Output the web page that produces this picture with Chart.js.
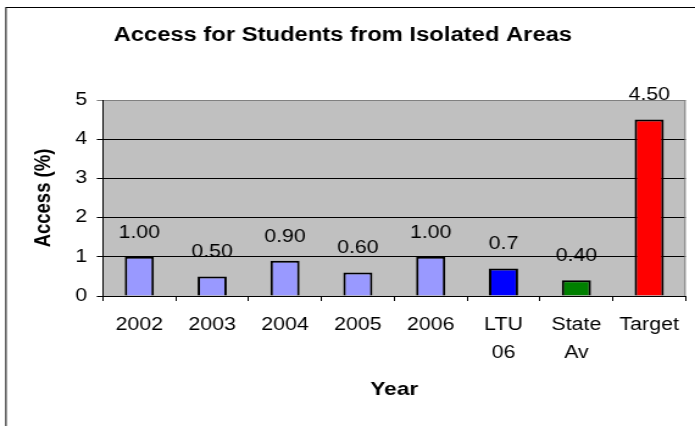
<!DOCTYPE html>
<html>
<head>
<meta charset="utf-8">
<script src="https://cdn.jsdelivr.net/npm/chart.js@4/dist/chart.umd.min.js"></script>
<style>
  html, body { margin: 0; padding: 0; background: #fff; overflow: hidden; }
  #wrap { width: 570px; height: 426px; transform: scale(1.2193, 1); transform-origin: 0 0; }
</style>
</head>
<body>
<div id="wrap"><canvas id="chart" width="570" height="426"></canvas></div>
<script>
const categories = ['2002', '2003', '2004', '2005', '2006', ['LTU', '06'], ['State', 'Av'], 'Target'];
const accessValues = [1.0, 0.5, 0.9, 0.6, 1.0, 0.7, 0.4, 4.5];
const valueLabels = ['1.00', '0.50', '0.90', '0.60', '1.00', '0.7', '0.40', '4.50'];
const yTicks = [0, 1, 2, 3, 4, 5];

Chart.defaults.font.family = '"Liberation Sans", Arial, sans-serif';
Chart.defaults.color = '#000';

// gray plot area, right border, outer frame and value labels
const decor = {
  id: 'decor',
  beforeDraw(chart) {
    const { ctx, chartArea: a } = chart;
    ctx.save();
    ctx.fillStyle = '#c0c0c0';
    ctx.fillRect(a.left, a.top, a.right - a.left, a.bottom - a.top);
    ctx.restore();
  },
  afterDatasetsDraw(chart) {
    const { ctx, chartArea: a } = chart;
    ctx.save();
    ctx.strokeStyle = '#808080';
    ctx.lineWidth = 1;
    ctx.beginPath();
    ctx.moveTo(a.right - 0.5, a.top);
    ctx.lineTo(a.right - 0.5, a.bottom);
    ctx.stroke();

    ctx.fillStyle = '#000';
    ctx.font = '17.5px "Liberation Sans", Arial, sans-serif';
    ctx.textAlign = 'center';
    ctx.textBaseline = 'middle';
    chart.getDatasetMeta(0).data.forEach((bar, i) => {
      ctx.fillText(valueLabels[i], bar.x, bar.y - 24);
    });

    ctx.strokeStyle = '#000';
    ctx.strokeRect(4.9, 7.5, 700, 500);
    ctx.restore();
  }
};

new Chart(document.getElementById('chart'), {
  type: 'bar',
  data: {
    labels: categories,
    datasets: [{
      data: accessValues,
      backgroundColor: ['#9999ff', '#9999ff', '#9999ff', '#9999ff', '#9999ff', '#0000ff', '#008000', '#ff0000'],
      borderColor: '#000',
      borderWidth: 2,
      barPercentage: 0.4,
      categoryPercentage: 1
    }]
  },
  options: {
    responsive: false,
    animation: false,
    devicePixelRatio: 1,
    layout: { padding: { left: 0, right: 7.7, top: 0, bottom: 0 } },
    plugins: {
      legend: { display: false },
      tooltip: { enabled: false },
      title: {
        display: true,
        text: 'Access for Students from Isolated Areas',
        font: { size: 19.5, weight: 'bold' },
        padding: { top: 24.1, bottom: 52.5 }
      }
    },
    scales: {
      x: {
        grid: { display: true, drawOnChartArea: false, tickLength: 5, color: '#000' },
        border: { color: '#000', width: 1 },
        ticks: { font: { size: 17.5, lineHeight: 1.6 }, padding: 10, maxRotation: 0 },
        title: { display: true, text: 'Year', font: { size: 18.5, weight: 'bold' }, padding: { top: 0, bottom: 25 } },
        afterFit: s => { s.height = 130; }
      },
      y: {
        min: 0,
        max: 5,
        afterBuildTicks: s => { s.ticks = yTicks.map(v => ({ value: v })); },
        grid: {
          tickLength: 5,
          color: c => (c.tick && c.tick.value === 5 ? '#808080' : '#000')
        },
        border: { color: '#000', width: 1 },
        ticks: { font: { size: 17.5 }, padding: 8 },
        title: { display: true, text: 'Access (%)', font: { size: 18.5, weight: 'bold' }, padding: { top: 25, bottom: 0 } },
        afterFit: s => { s.width = 84.4; }
      }
    }
  },
  plugins: [decor]
});
</script>
</body>
</html>
